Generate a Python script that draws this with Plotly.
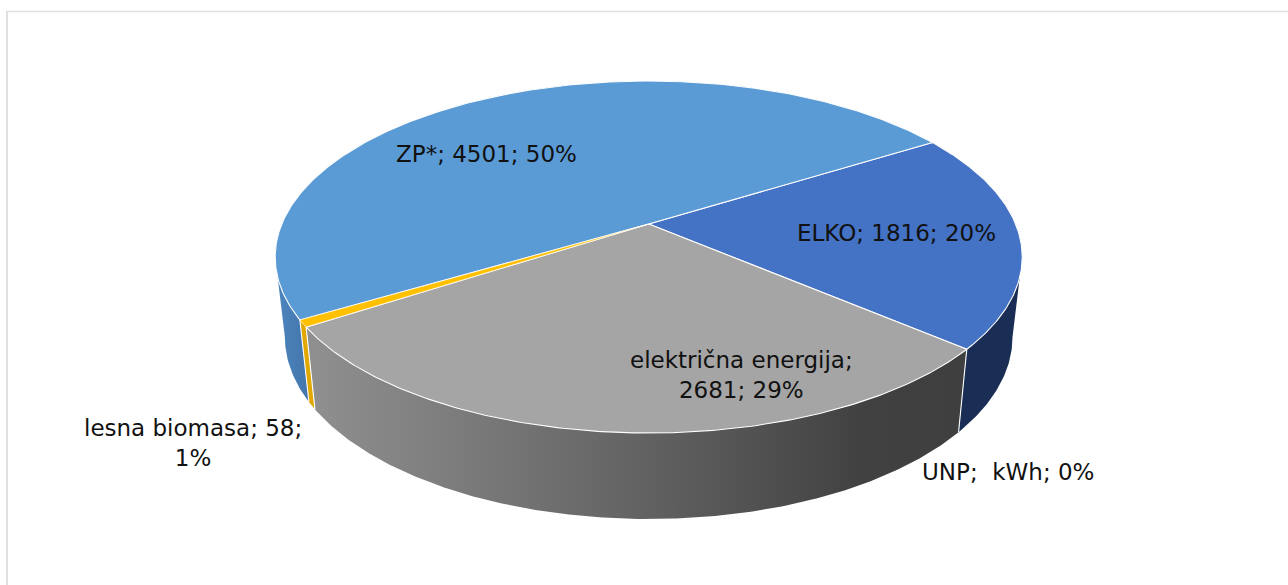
import numpy as np
import plotly.graph_objects as go

categories = ["ELKO", "električna energija", "UNP", "lesna biomasa", "ZP*"]
values = [1816, 2681, 0, 58, 4501]
percents = [20, 29, 0, 1, 50]
label_texts = [
    "ELKO; 1816; 20%",
    "električna energija;<br>2681; 29%",
    "UNP;  kWh; 0%",
    "lesna biomasa; 58;<br>1%",
    "ZP*; 4501; 50%",
]
label_x = [896, 741, 1008, 193, 486]
label_y = [233, 375, 472, 443, 154]

top_colors = ["#4472C4", "#A5A5A5", "#ED7D31", "#FFC000", "#5B9BD5"]
side_colors = ["#1A2E55", None, "#9C4A14", "#E0A800", "#4A7FB6"]
gray_gradient = [[0, "#8F8F8F"], [0.5, "#636363"], [0.85, "#414141"], [1, "#3F3F3F"]]
blue_gradient = [[0, "#4F86BF"], [1, "#3F72A8"]]

START_ANGLE = 58.2
K = 0.1875
CX, TOP_CY, TOP_A, TOP_B = 648.7, 224.0, 366.9, 169.8
BOT_CY, BOT_A, BOT_B = 302.6, 357.4, 175.8
EDGE_WIDTH = 1.1


def project(deg, cy, a, b):
    t = np.radians(deg)
    u, v = np.sin(t), np.cos(t)
    w = 1 + K * v
    return CX + a * u / w, cy - b * v / w


def top_pt(deg):
    return project(deg, TOP_CY, TOP_A, TOP_B)


def bot_pt(deg):
    return project(deg, BOT_CY, BOT_A, BOT_B)


total = sum(values)
edges = START_ANGLE + np.concatenate([[0], np.cumsum(values)]) * 360.0 / total

# angles where the wall's silhouette leaves the top disc (front half is cos < -K)
SIL = [float(np.degrees(np.arccos(-K))), 360 - float(np.degrees(np.arccos(-K)))]

fig = go.Figure()


def side_outline(a0, a1):
    """Visible wall outline: bottom rim where the wall faces the viewer, top rim elsewhere;
    the rest closes through the pie centre, hidden below the top wedges."""
    cuts = [a0, a1]
    for s in SIL:
        for off in (0, 360):
            if a0 < s + off < a1:
                cuts.append(s + off)
    cuts = sorted(cuts)
    xs, ys = [CX], [TOP_CY]
    x, y = top_pt(a0)
    xs.append(float(x)); ys.append(float(y))
    for p, q in zip(cuts[:-1], cuts[1:]):
        mid = (p + q) / 2
        front = np.cos(np.radians(mid)) < -K
        angs = np.linspace(p, q, max(3, int(q - p) * 2))
        px, py = bot_pt(angs) if front else top_pt(angs)
        xs += [float(a) for a in px]
        ys += [float(b) for b in py]
    x, y = top_pt(a1)
    xs.append(float(x)); ys.append(float(y))
    xs.append(CX); ys.append(TOP_CY)
    return xs, ys


# side walls
for i, v in enumerate(values):
    if v == 0:
        continue
    xs, ys = side_outline(edges[i], edges[i + 1])
    kw = dict(x=xs, y=ys, mode="lines", fill="toself", hoverinfo="skip", showlegend=False)
    if categories[i] == "električna energija":
        kw["fillgradient"] = dict(type="horizontal", colorscale=gray_gradient, start=315, stop=960)
        kw["line"] = dict(width=0, color="#666666")
    elif categories[i] == "ZP*":
        kw["fillgradient"] = dict(type="horizontal", colorscale=blue_gradient, start=275, stop=315)
        kw["line"] = dict(width=0, color="#4A7FB6")
    else:
        kw["fillcolor"] = side_colors[i]
        kw["line"] = dict(width=0, color=side_colors[i])
    fig.add_trace(go.Scatter(**kw))

# white seams between side walls
for idx in (1, 2, 4):
    x0, y0 = top_pt(edges[idx])
    x1, y1 = bot_pt(edges[idx])
    fig.add_trace(go.Scatter(x=[x0, x1], y=[y0, y1], mode="lines", hoverinfo="skip", showlegend=False,
                             line=dict(color="#FFFFFF", width=EDGE_WIDTH)))

# top wedges; the thin biomass wedge goes last with a finer edge so the yellow stays visible
order = [0, 1, 4, 3]
for i in order:
    angs = np.linspace(edges[i], edges[i + 1], max(3, int(edges[i + 1] - edges[i]) * 2))
    px, py = top_pt(angs)
    fig.add_trace(go.Scatter(
        x=[CX] + list(px) + [CX], y=[TOP_CY] + list(py) + [TOP_CY],
        mode="lines", fill="toself", fillcolor=top_colors[i], hoverinfo="skip", showlegend=False,
        line=dict(color="#FFFFFF", width=0.7 if i == 3 else EDGE_WIDTH),
    ))

annotations = [
    dict(x=x, y=y, text=t, showarrow=False, xanchor="center", yanchor="middle", xref="x", yref="y",
         font=dict(family="DejaVu Sans", size=23, color="#111111"))
    for t, x, y in zip(label_texts, label_x, label_y)
]

shapes = [
    dict(type="line", xref="x", yref="y", x0=7, x1=7, y0=11, y1=585, line=dict(color="#E0E0E0", width=2)),
    dict(type="line", xref="x", yref="y", x0=6, x1=1288, y0=11.5, y1=11.5, line=dict(color="#E0E0E0", width=1.5)),
]

fig.update_layout(
    width=1288, height=585,
    margin=dict(l=0, r=0, t=0, b=0),
    paper_bgcolor="#FFFFFF", plot_bgcolor="#FFFFFF",
    xaxis=dict(range=[0, 1288], visible=False, fixedrange=True),
    yaxis=dict(range=[585, 0], visible=False, fixedrange=True),
    annotations=annotations, shapes=shapes, showlegend=False,
)
fig.write_html("out.html", config={"displayModeBar": False},
               post_script="document.body.style.margin='0';document.body.style.overflow='hidden';")
